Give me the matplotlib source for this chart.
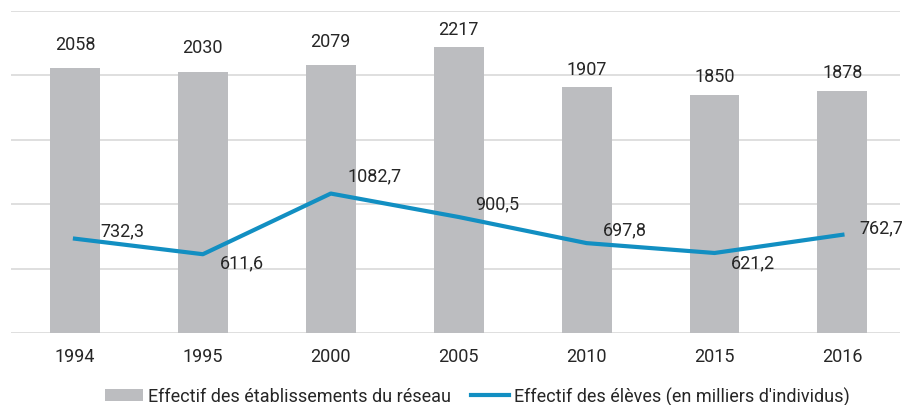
import matplotlib
matplotlib.use("Agg")
import matplotlib.pyplot as plt
import numpy as np

plt.rcParams['font.family'] = ['Roboto', 'DejaVu Sans']

years = ['1994', '1995', '2000', '2005', '2010', '2015', '2016']
etablissements = [2058, 2030, 2079, 2217, 1907, 1850, 1878]
eleves = [732.3, 611.6, 1082.7, 900.5, 697.8, 621.2, 762.7]

# label offsets (points)
bar_label_gap = [11, 11, 11, 7, 7, 7, 7]
eleves_offsets = [(18, 6), (12, -6), (12, 13), (12, 10), (12, 10), (12, -7), (12, 5)]

BAR_COLOR = '#bcbdc0'
LINE_COLOR = '#128fc2'
TEXT_COLOR = '#262626'
FS = 13

fig = plt.figure(figsize=(9.02, 4.06), dpi=100)
ax = fig.add_axes([11 / 902, 72 / 406, 889 / 902, 322 / 406])

x = np.arange(len(years))
bars = ax.bar(x, etablissements, width=0.39, color=BAR_COLOR, zorder=2,
              label='Effectif des établissements du réseau')
line, = ax.plot(x, eleves, color=LINE_COLOR, linewidth=3, zorder=3,
                label="Effectif des élèves (en milliers d'individus)")

for xi, v, gap in zip(x, etablissements, bar_label_gap):
    ax.annotate(f'{v}', (xi, v), xytext=(0, gap), textcoords='offset points',
                ha='center', va='bottom', fontsize=FS, color=TEXT_COLOR)

for xi, v, off in zip(x, eleves, eleves_offsets):
    ax.annotate(f'{v:.1f}'.replace('.', ','), (xi, v), xytext=off,
                textcoords='offset points', ha='left', va='center',
                fontsize=FS, color=TEXT_COLOR, zorder=4)

ax.set_ylim(0, 2500)
ax.set_yticks(np.arange(0, 2501, 500))
ax.set_xlim(-0.5, 6.45)
ax.set_xticks(x)
ax.set_xticklabels(years)
ax.tick_params(axis='x', length=0, pad=10, labelsize=FS, colors=TEXT_COLOR)
ax.tick_params(axis='y', length=0, labelleft=False)
ax.grid(axis='y', color='#d9d9d9', linewidth=1.2, zorder=0)
for s in ax.spines.values():
    s.set_visible(False)

fig.legend([bars, line], [bars.get_label(), line.get_label()],
           loc='center', bbox_to_anchor=(0.529, 9 / 406), ncol=2, frameon=False,
           fontsize=FS, handlelength=2.1, handletextpad=0.28, columnspacing=1.1,
           labelcolor=TEXT_COLOR)

fig.savefig('out.png', dpi=100)
